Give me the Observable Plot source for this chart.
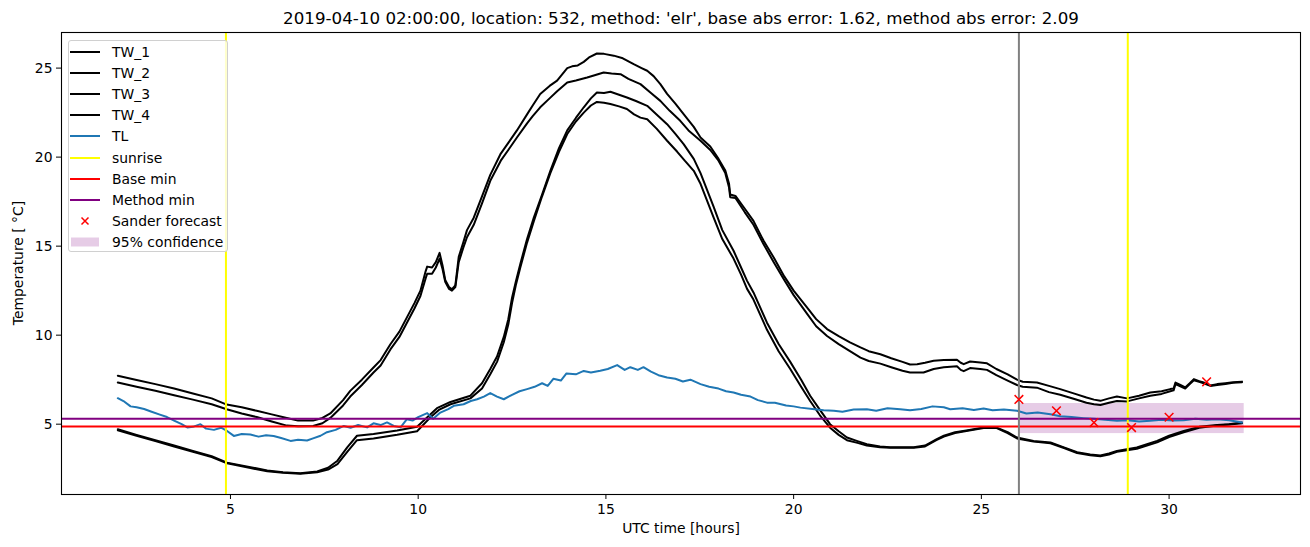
<!DOCTYPE html>
<html><head><meta charset="utf-8">
<script src="https://cdn.jsdelivr.net/npm/d3@7"></script>
<script src="https://cdn.jsdelivr.net/npm/@observablehq/plot@0.6"></script>
<style>
body{margin:0;background:#fff;font-family:"DejaVu Sans",sans-serif;}
#wrap{position:relative;width:1310px;height:547px;overflow:hidden;}
#wrap svg{position:absolute;left:0;top:0;}
.ov{position:absolute;white-space:nowrap;color:#000;font-family:"DejaVu Sans",sans-serif;}
#legend{position:absolute;left:68px;top:40px;width:160px;height:212px;border:1px solid #d0d0d0;border-radius:3px;background:rgba(255,255,255,0.8);box-sizing:border-box;}
.lrow{position:absolute;left:0;height:20px;}
.lrow svg{position:absolute;left:3px;top:0;}
.lrow span{position:absolute;left:43px;top:1px;font-size:13.9px;line-height:18px;white-space:nowrap;font-family:"DejaVu Sans",sans-serif;}
</style></head><body><div id="wrap"></div><script>
// ---- data ----
const title = "2019-04-10 02:00:00, location: 532, method: 'elr', base abs error: 1.62, method abs error: 2.09";
const xLabel = "UTC time [hours]";
const yLabel = "Temperature [ \u00B0C]";
const xTicks = [5, 10, 15, 20, 25, 30];
const yTicks = [5, 10, 15, 20, 25];

const TW_1 = [[2.0,7.72],[2.5,7.48],[3.0,7.25],[3.5,7.0],[4.0,6.72],[4.5,6.45],[4.9,6.1],[5.3,5.95],[5.7,5.75],[6.1,5.55],[6.5,5.35],[6.8,5.2],[7.2,5.2],[7.45,5.35],[7.66,5.6],[8.0,6.35],[8.19,6.87],[8.5,7.5],[8.81,8.18],[9.0,8.6],[9.26,9.49],[9.5,10.2],[9.7,11.0],[9.9,11.8],[10.06,12.5],[10.2,13.6],[10.24,13.85],[10.37,13.8],[10.47,14.1],[10.57,14.62],[10.65,13.9],[10.72,13.1],[10.82,12.7],[10.9,12.58],[10.99,12.8],[11.08,14.4],[11.2,15.2],[11.3,15.9],[11.48,16.6],[11.7,17.8],[11.92,19.0],[12.2,20.2],[12.4,20.8],[12.63,21.5],[12.9,22.4],[13.05,22.9],[13.25,23.55],[13.5,24.0],[13.7,24.3],[13.97,25.0],[14.1,25.1],[14.25,25.15],[14.41,25.35],[14.55,25.6],[14.76,25.82],[14.95,25.8],[15.21,25.7],[15.45,25.55],[15.74,25.22],[15.95,25.0],[16.1,24.85],[16.27,24.55],[16.45,24.1],[16.63,23.55],[16.85,23.0],[17.07,22.42],[17.34,21.7],[17.52,21.1],[17.78,20.6],[18.0,19.9],[18.18,19.25],[18.28,18.5],[18.31,17.9],[18.45,17.82],[18.7,17.1],[18.93,16.42],[19.2,15.3],[19.47,14.36],[19.75,13.3],[20.0,12.5],[20.36,11.55],[20.6,10.9],[20.89,10.34],[21.2,9.95],[21.5,9.6],[21.78,9.31],[22.0,9.1],[22.31,8.93],[22.6,8.7],[22.9,8.5],[23.1,8.35],[23.29,8.37],[23.5,8.45],[23.73,8.56],[24.0,8.6],[24.35,8.62],[24.45,8.45],[24.53,8.37],[24.7,8.52],[24.97,8.46],[25.15,8.42],[25.4,8.1],[25.7,7.8],[25.95,7.5],[26.1,7.38],[26.48,7.34],[26.8,7.15],[27.1,6.97],[27.5,6.7],[27.8,6.5],[28.0,6.38],[28.17,6.31],[28.4,6.45],[28.61,6.55],[28.88,6.45],[29.2,6.6],[29.5,6.78],[29.8,6.85],[30.03,6.97],[30.12,7.0],[30.17,7.34],[30.3,7.2],[30.43,7.06],[30.55,7.3],[30.66,7.53],[30.8,7.42],[30.92,7.34],[31.1,7.18],[31.28,7.25],[31.5,7.3],[31.7,7.35],[31.94,7.39]];

const TW_2 = [[2.0,7.34],[2.5,7.1],[3.0,6.88],[3.5,6.62],[4.0,6.38],[4.5,6.12],[4.9,5.84],[5.3,5.6],[5.7,5.4],[6.1,5.15],[6.5,4.92],[6.8,4.88],[7.2,4.9],[7.45,5.05],[7.66,5.35],[8.0,6.05],[8.19,6.55],[8.5,7.2],[8.81,7.9],[9.0,8.3],[9.26,9.2],[9.5,9.9],[9.7,10.7],[9.9,11.5],[10.06,12.2],[10.2,13.2],[10.24,13.45],[10.37,13.45],[10.47,13.8],[10.57,14.3],[10.65,13.7],[10.72,13.0],[10.82,12.6],[10.9,12.5],[10.99,12.7],[11.08,14.1],[11.2,14.9],[11.3,15.5],[11.48,16.2],[11.7,17.4],[11.92,18.67],[12.2,19.8],[12.4,20.4],[12.63,21.1],[12.9,21.9],[13.05,22.3],[13.25,22.8],[13.5,23.3],[13.7,23.7],[13.97,24.19],[14.2,24.3],[14.5,24.47],[14.7,24.6],[14.94,24.75],[15.15,24.7],[15.39,24.66],[15.6,24.4],[15.92,24.1],[16.2,23.6],[16.45,23.16],[16.7,22.6],[16.98,22.04],[17.2,21.5],[17.52,20.92],[17.78,20.4],[18.0,19.8],[18.18,19.1],[18.28,18.3],[18.31,17.75],[18.45,17.7],[18.7,16.9],[18.93,16.2],[19.2,15.1],[19.47,14.1],[19.75,13.1],[20.0,12.25],[20.36,11.2],[20.6,10.5],[20.89,9.95],[21.2,9.5],[21.5,9.1],[21.78,8.74],[22.0,8.55],[22.31,8.4],[22.6,8.2],[22.9,8.0],[23.1,7.9],[23.46,7.9],[23.73,8.1],[24.0,8.2],[24.35,8.25],[24.45,8.05],[24.53,7.98],[24.7,8.15],[24.97,8.1],[25.15,8.05],[25.4,7.75],[25.7,7.45],[25.95,7.2],[26.1,7.1],[26.48,7.05],[26.8,6.8],[27.1,6.65],[27.5,6.4],[27.8,6.2],[28.0,6.12],[28.17,6.08],[28.4,6.2],[28.61,6.3],[28.88,6.28],[29.2,6.45],[29.5,6.6],[29.8,6.7],[30.03,6.85],[30.12,6.9],[30.17,7.25],[30.3,7.12],[30.43,7.0],[30.55,7.25],[30.66,7.47],[30.8,7.38],[30.92,7.3],[31.1,7.15],[31.28,7.2],[31.5,7.26],[31.7,7.32],[31.94,7.36]];

const TW_3 = [[2.0,4.72],[2.5,4.4],[3.0,4.1],[3.5,3.8],[4.0,3.5],[4.5,3.2],[4.91,2.84],[5.5,2.6],[5.98,2.4],[6.4,2.3],[6.86,2.25],[7.31,2.34],[7.6,2.55],[7.85,2.95],[8.11,3.7],[8.37,4.35],[8.81,4.45],[9.44,4.65],[9.97,4.85],[10.2,5.3],[10.5,5.9],[10.86,6.25],[11.39,6.6],[11.7,7.3],[11.92,8.1],[12.1,8.8],[12.28,9.9],[12.4,10.9],[12.5,12.1],[12.6,13.0],[12.72,14.0],[12.9,15.4],[13.08,16.6],[13.3,17.9],[13.52,19.23],[13.75,20.5],[13.97,21.5],[14.2,22.2],[14.41,22.8],[14.6,23.3],[14.76,23.63],[14.95,23.6],[15.12,23.67],[15.35,23.5],[15.56,23.35],[15.8,23.15],[16.1,22.88],[16.35,22.4],[16.63,21.85],[16.85,21.3],[17.07,20.73],[17.34,19.9],[17.52,19.1],[17.87,17.2],[18.1,15.9],[18.4,14.74],[18.6,13.8],[18.76,13.05],[18.93,12.4],[19.1,11.6],[19.29,10.7],[19.6,9.5],[19.91,8.5],[20.2,7.5],[20.44,6.6],[20.7,5.8],[20.97,5.0],[21.2,4.6],[21.42,4.25],[21.7,4.05],[21.95,3.88],[22.3,3.75],[22.57,3.7],[22.9,3.7],[23.2,3.7],[23.5,3.8],[23.8,4.15],[24.0,4.35],[24.3,4.55],[24.6,4.65],[25.06,4.81],[25.41,4.81],[25.7,4.55],[25.95,4.25],[26.39,4.06],[26.84,3.97],[27.2,3.7],[27.55,3.42],[27.9,3.3],[28.17,3.24],[28.4,3.35],[28.61,3.5],[29.14,3.69],[29.68,4.06],[30.0,4.35],[30.39,4.62],[30.8,4.85],[31.28,4.96],[31.6,5.0],[31.94,5.1]];

const TW_4 = [[2.0,4.65],[2.5,4.35],[3.0,4.05],[3.5,3.75],[4.0,3.45],[4.5,3.15],[4.91,2.8],[5.5,2.55],[5.98,2.35],[6.4,2.27],[6.86,2.22],[7.31,2.3],[7.6,2.45],[7.85,2.75],[8.11,3.45],[8.37,4.1],[8.81,4.2],[9.44,4.4],[9.97,4.6],[10.32,5.37],[10.55,5.8],[10.86,6.12],[11.39,6.45],[11.7,7.0],[11.92,7.8],[12.1,8.5],[12.28,9.6],[12.4,10.6],[12.5,11.8],[12.6,12.8],[12.72,13.8],[12.9,15.2],[13.08,16.4],[13.3,17.8],[13.52,19.1],[13.75,20.3],[13.97,21.3],[14.2,22.0],[14.41,22.5],[14.6,22.9],[14.76,23.1],[14.95,23.05],[15.12,22.98],[15.35,22.85],[15.56,22.7],[15.75,22.4],[15.92,22.22],[16.1,22.13],[16.35,21.6],[16.63,20.92],[16.9,20.3],[17.1,19.8],[17.34,19.23],[17.52,18.5],[17.87,16.6],[18.1,15.4],[18.4,14.3],[18.6,13.4],[18.76,12.6],[18.93,12.0],[19.1,11.2],[19.29,10.3],[19.6,9.1],[19.91,8.1],[20.2,7.1],[20.44,6.3],[20.7,5.5],[20.97,4.8],[21.2,4.4],[21.42,4.1],[21.7,3.95],[21.95,3.8],[22.3,3.7],[22.57,3.68],[22.9,3.67],[23.2,3.68],[23.5,3.75],[23.8,4.1],[24.0,4.3],[24.3,4.5],[24.6,4.62],[25.06,4.78],[25.41,4.78],[25.7,4.5],[25.95,4.2],[26.39,4.02],[26.84,3.93],[27.2,3.66],[27.55,3.38],[27.9,3.26],[28.17,3.2],[28.4,3.3],[28.61,3.45],[29.14,3.62],[29.68,3.98],[30.0,4.28],[30.39,4.55],[30.8,4.8],[31.28,4.92],[31.6,4.98],[31.94,5.05]];

const TL = [[2.0,6.46],[2.15,6.3],[2.34,6.0],[2.5,5.95],[2.7,5.85],[2.9,5.7],[3.1,5.55],[3.31,5.4],[3.5,5.2],[3.7,5.0],[3.85,4.82],[4.0,4.85],[4.2,5.0],[4.35,4.75],[4.56,4.68],[4.75,4.8],[4.91,4.62],[5.09,4.34],[5.3,4.45],[5.53,4.42],[5.75,4.3],[5.95,4.38],[6.15,4.34],[6.35,4.22],[6.6,4.06],[6.8,4.12],[7.04,4.08],[7.2,4.2],[7.4,4.35],[7.57,4.55],[7.8,4.68],[8.02,4.9],[8.2,4.8],[8.4,4.95],[8.64,4.82],[8.81,5.05],[9.0,4.95],[9.17,5.1],[9.35,4.9],[9.53,4.82],[9.7,5.28],[9.85,5.2],[10.0,5.4],[10.24,5.62],[10.4,5.3],[10.59,5.65],[10.8,5.85],[10.95,6.03],[11.21,6.12],[11.4,6.3],[11.57,6.4],[11.75,6.55],[11.92,6.75],[12.1,6.55],[12.28,6.4],[12.5,6.65],[12.7,6.85],[12.9,6.97],[13.1,7.1],[13.3,7.3],[13.45,7.15],[13.6,7.55],[13.8,7.45],[13.95,7.85],[14.2,7.8],[14.41,7.99],[14.6,7.9],[14.85,8.0],[15.05,8.1],[15.3,8.32],[15.5,8.05],[15.65,8.2],[15.85,8.05],[16.0,8.2],[16.2,7.95],[16.4,7.75],[16.63,7.62],[16.85,7.55],[17.05,7.4],[17.25,7.5],[17.52,7.25],[17.75,7.1],[18.0,7.0],[18.2,6.85],[18.4,6.78],[18.6,6.65],[18.85,6.55],[19.05,6.35],[19.29,6.21],[19.5,6.2],[19.8,6.05],[20.0,6.0],[20.18,5.93],[20.5,5.85],[20.8,5.78],[21.07,5.75],[21.3,5.7],[21.6,5.82],[21.95,5.84],[22.2,5.75],[22.5,5.9],[22.84,5.84],[23.1,5.78],[23.4,5.85],[23.7,6.0],[24.0,5.95],[24.17,5.84],[24.5,5.9],[24.8,5.8],[25.06,5.88],[25.3,5.78],[25.6,5.82],[25.95,5.75],[26.2,5.6],[26.5,5.65],[26.84,5.56],[27.1,5.45],[27.4,5.4],[27.72,5.34],[28.0,5.3],[28.3,5.25],[28.61,5.19],[28.9,5.22],[29.2,5.15],[29.5,5.19],[29.8,5.25],[30.1,5.2],[30.39,5.22],[30.7,5.3],[31.0,5.25],[31.28,5.28],[31.6,5.22],[31.94,5.09]];

const sunriseHours = [4.88, 28.9];
const forecastStartHour = [26];
const baseMin = [4.87];
const methodMin = [5.31];
const sanderHours = [26, 27, 28, 29, 30, 31];
const sanderValues = [6.39, 5.75, 5.09, 4.81, 5.39, 7.38];
const confHours = [26, 32];
const confLow = [4.47];
const confHigh = [6.16];

// ---- build ----
const toRows = (arr) => arr.map(([h, v]) => ({h, v}));
const sander = sanderHours.map((h, i) => ({h, v: sanderValues[i]}));
const band = [{x1: confHours[0], x2: confHours[1], y1: confLow[0], y2: confHigh[0]}];

const chart = Plot.plot({
  width: 1310, height: 547,
  marginLeft: 61, marginRight: 10, marginTop: 32, marginBottom: 53,
  x: {domain: [0.5, 33.5]},
  y: {domain: [1.05, 27.0]},
  style: {fontFamily: "DejaVu Sans, sans-serif", fontSize: "13.9px", color: "black", background: "white", overflow: "visible"},
  marks: [
    Plot.rect(band, {x1: "x1", x2: "x2", y1: "y1", y2: "y2", fill: "purple", fillOpacity: 0.2}),
    Plot.line(toRows(TW_1), {x: "h", y: "v", stroke: "black", strokeWidth: 2}),
    Plot.line(toRows(TW_2), {x: "h", y: "v", stroke: "black", strokeWidth: 2}),
    Plot.line(toRows(TW_3), {x: "h", y: "v", stroke: "black", strokeWidth: 2}),
    Plot.line(toRows(TW_4), {x: "h", y: "v", stroke: "black", strokeWidth: 2}),
    Plot.line(toRows(TL), {x: "h", y: "v", stroke: "#1f77b4", strokeWidth: 2}),
    Plot.ruleX(sunriseHours, {stroke: "yellow", strokeWidth: 2}),
    Plot.ruleY(baseMin, {stroke: "red", strokeWidth: 2}),
    Plot.ruleY(methodMin, {stroke: "purple", strokeWidth: 2}),
    Plot.ruleX(forecastStartHour, {stroke: "grey", strokeWidth: 2}),
    Plot.dot(sander, {x: "h", y: "v", symbol: "times", stroke: "red", strokeWidth: 1.5, r: 4}),
    Plot.frame({stroke: "black", strokeWidth: 1.1}),
    Plot.axisX({ticks: xTicks, tickSize: 5, tickPadding: 5, label: null, fontSize: 13.9}),
    Plot.axisY({ticks: yTicks, tickSize: 5, tickPadding: 4, label: null, fontSize: 13.9})
  ]
});

const wrap = document.getElementById("wrap");
wrap.appendChild(chart);

function addText(txt, css) {
  const d = document.createElement("div");
  d.className = "ov";
  d.textContent = txt;
  Object.assign(d.style, css);
  wrap.appendChild(d);
  return d;
}
addText(title, {left: "681px", top: "8px", fontSize: "16.7px", transform: "translateX(-50%)"});
addText(xLabel, {left: "681px", top: "520px", fontSize: "13.9px", transform: "translateX(-50%)"});
addText(yLabel, {left: "18px", top: "263px", fontSize: "13.9px", transform: "translate(-50%,-50%) rotate(-90deg)"});

// legend
const legendItems = [
  {label: "TW_1", kind: "line", color: "black"},
  {label: "TW_2", kind: "line", color: "black"},
  {label: "TW_3", kind: "line", color: "black"},
  {label: "TW_4", kind: "line", color: "black"},
  {label: "TL", kind: "line", color: "#1f77b4"},
  {label: "sunrise", kind: "line", color: "yellow"},
  {label: "Base min", kind: "line", color: "red"},
  {label: "Method min", kind: "line", color: "purple"},
  {label: "Sander forecast", kind: "x", color: "red"},
  {label: "95% confidence", kind: "patch", color: "purple"}
];
const leg = document.createElement("div");
leg.id = "legend";
wrap.appendChild(leg);
legendItems.forEach((it, i) => {
  const row = document.createElement("div");
  row.className = "lrow";
  row.style.top = (1 + i * 21.1) + "px";
  let sw = "";
  if (it.kind === "line") sw = `<line x1="1" x2="31" y1="10" y2="10" stroke="${it.color}" stroke-width="2"/>`;
  else if (it.kind === "x") sw = `<path d="M12.5,6.5L19.5,13.5M12.5,13.5L19.5,6.5" stroke="${it.color}" stroke-width="1.5"/>`;
  else sw = `<rect x="2" y="5.5" width="28" height="9" fill="${it.color}" fill-opacity="0.2"/>`;
  row.innerHTML = `<svg width="34" height="20">${sw}</svg><span>${it.label}</span>`;
  leg.appendChild(row);
});
</script></body></html>
